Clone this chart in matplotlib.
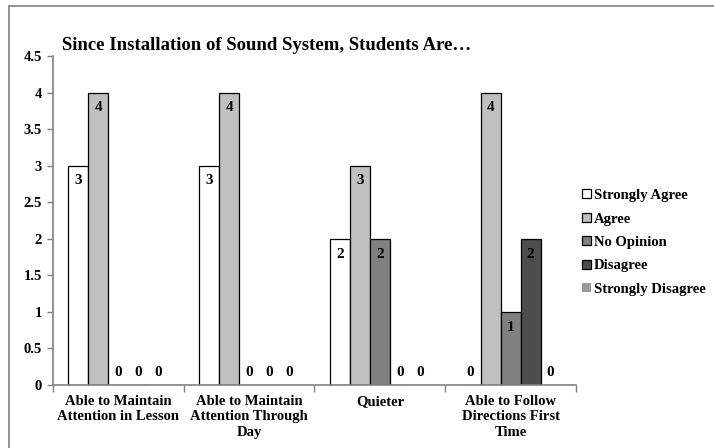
import matplotlib
matplotlib.use("Agg")
import matplotlib.pyplot as plt
import numpy as np
from matplotlib.patches import Rectangle

categories = ["Able to Maintain\nAttention in Lesson", "Able to Maintain\nAttention Through\nDay",
              "Quieter", "Able to Follow\nDirections First\nTime"]
series_names = ["Strongly Agree", "Agree", "No Opinion", "Disagree", "Strongly Disagree"]
strongly_agree = [3, 3, 2, 0]
agree = [4, 4, 3, 4]
no_opinion = [0, 0, 2, 1]
disagree = [0, 0, 0, 2]
strongly_disagree = [0, 0, 0, 0]
series_values = [strongly_agree, agree, no_opinion, disagree, strongly_disagree]
y_ticks = [0, 0.5, 1, 1.5, 2, 2.5, 3, 3.5, 4, 4.5]
y_tick_labels = ["0", "0.5", "1", "1.5", "2", "2.5", "3", "3.5", "4", "4.5"]
title = "Since Installation of Sound System, Students Are\u2026"

colors = ["#ffffff", "#c0c0c0", "#808080", "#4d4d4d", "#999999"]
edges = ["#000000", "#000000", "#000000", "#000000", "none"]

plt.rcParams['font.family'] = ['Liberation Serif', 'DejaVu Serif']
plt.rcParams['font.weight'] = 'bold'

W, H = 714, 448
fig = plt.figure(figsize=(W / 100, H / 100), dpi=100)
ax = fig.add_axes([53 / W, (H - 385) / H, (576 - 53) / W, (385 - 56) / H])

n = len(series_names)
bw = 0.153
x = np.arange(len(categories))
for i, (name, vals) in enumerate(zip(series_names, series_values)):
    pos = x + (i - (n - 1) / 2) * bw
    ax.bar(pos, vals, width=bw, color=colors[i], edgecolor=edges[i],
           linewidth=0.9, label=name, zorder=2)
    for p, v in zip(pos, vals):
        if v > 0:
            ax.annotate(f"{v}", (p, v), xytext=(0, -11), textcoords="offset points",
                        ha="center", va="center", fontsize=11, fontweight="bold")
        else:
            ax.annotate(f"{v}", (p, 0), xytext=(0, 9), textcoords="offset points",
                        ha="center", va="center", fontsize=11, fontweight="bold")

ax.set_xlim(-0.5, len(categories) - 0.5)
ax.set_ylim(0, 4.5)
ax.set_yticks(y_ticks)
ax.set_yticklabels(y_tick_labels, fontsize=10.5, fontweight="bold")
ax.set_xticks(x)
ax.set_xticklabels(categories, fontsize=10.5, fontweight="bold", linespacing=1.25, va="top")
ax.tick_params(axis="x", length=0, pad=7)
ax.set_xticks(np.arange(-0.5, len(categories), 1.0), minor=True)
ax.tick_params(axis="x", which="minor", length=5, color="#808080", width=1)
ax.tick_params(axis="y", length=4, color="#808080", width=1, pad=4)
for s in ["top", "right"]:
    ax.spines[s].set_visible(False)
for s in ["left", "bottom"]:
    ax.spines[s].set_color("#808080")
    ax.spines[s].set_linewidth(1.2)

fig.text(62 / W, 1 - 50 / H, title, fontsize=13.5, fontweight="bold", ha="left", va="baseline")

fig.legend(loc="upper left", bbox_to_anchor=(582 / W, 1 - 189 / H), frameon=False,
           fontsize=10.5, handlelength=0.6, handleheight=0.6, handletextpad=0.2,
           labelspacing=0.72, borderpad=0, borderaxespad=0)

fig.patches.append(Rectangle((9 / W, -0.1), 2, 1 - 6 / H + 0.1, transform=fig.transFigure,
                             fill=False, edgecolor="#808080", linewidth=1.2))

fig.savefig("out.png", dpi=100)
